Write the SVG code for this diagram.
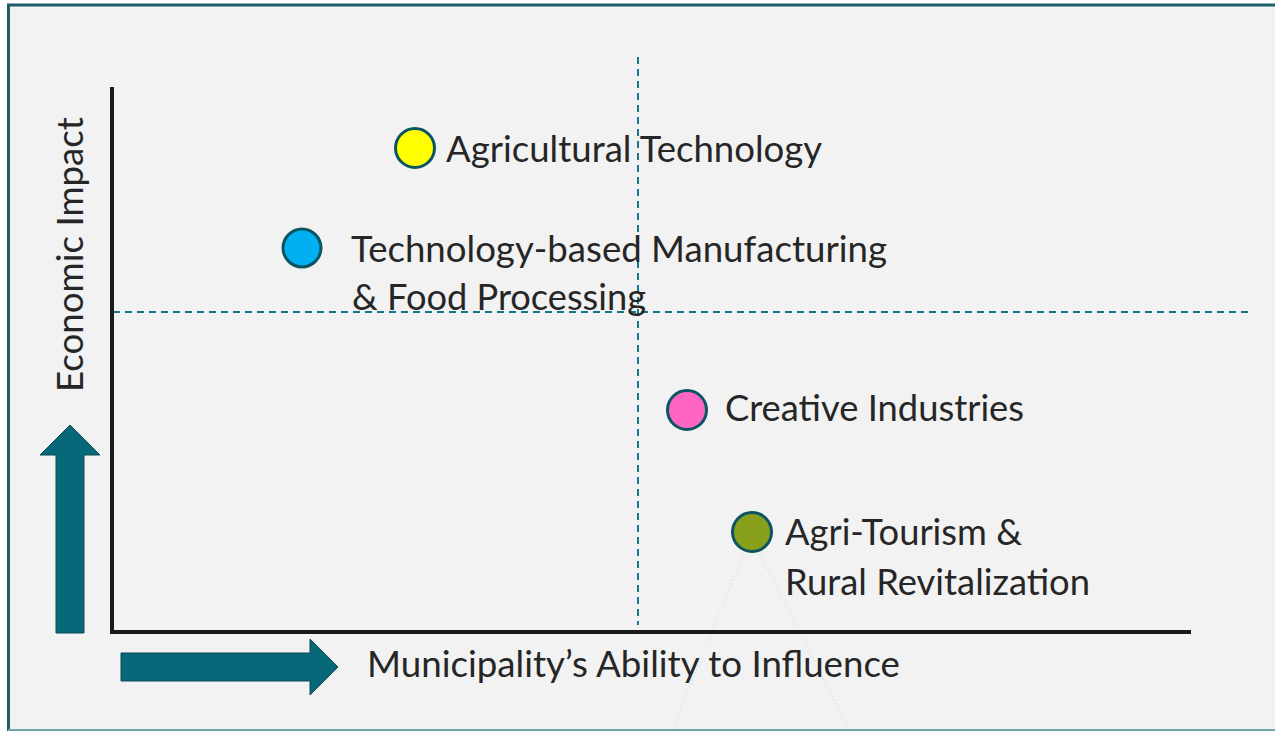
<svg xmlns="http://www.w3.org/2000/svg" width="1275" height="731" viewBox="0 0 1275 731">
  <style>
    .lbl { font-family: Lato, "Open Sans", "Liberation Sans", sans-serif; font-size: 36px; fill: #262626; }
    .dot { stroke: #0b5563; stroke-width: 3; }
    .guide { stroke: #13798a; stroke-width: 2; stroke-dasharray: 7 5; fill: none; }
    .axis { stroke: #1a1a1a; stroke-width: 4; fill: none; }
    .bigarrow { fill: #07687a; stroke: #0b4a55; stroke-width: 1; }
    .ghost { stroke: #d6d6d6; stroke-width: 1.2; stroke-dasharray: 1 3; fill: none; }
  </style>
  <rect x="0" y="0" width="1275" height="731" fill="#ffffff"/>
  <rect id="frame" x="8.5" y="5" width="1300" height="725.5" fill="#f2f2f2" stroke="#1d5e68" stroke-width="3"/>
  <line x1="8" y1="730" x2="1275" y2="730" stroke="#8fbcc4" stroke-width="1.5"/>

  <g id="ghost-shape">
    <line class="ghost" x1="745" y1="550" x2="672" y2="731"/>
    <line class="ghost" x1="758" y1="550" x2="850" y2="731"/>
  </g>

  <g id="connectors">
    <line class="guide" x1="638" y1="57" x2="638" y2="625"/>
    <line class="guide" x1="113" y1="312" x2="1250" y2="312"/>
    <polyline class="axis" points="112,87 112,632 1191,632"/>
  </g>

  <g id="axis-y-arrow">
    <polygon class="bigarrow" points="70,425 100,455 84,455 84,633 56,633 56,455 40,455"/>
  </g>
  <g id="axis-x-arrow">
    <polygon class="bigarrow" points="338,667 310,639 310,653 121,653 121,681 310,681 310,695"/>
  </g>
  <g id="axis-y-label">
    <text class="lbl" transform="translate(83,392) rotate(-90)" x="0" y="0" textLength="275" lengthAdjust="spacingAndGlyphs">Economic Impact</text>
  </g>
  <g id="axis-x-label">
    <text class="lbl" x="367" y="677" textLength="533" lengthAdjust="spacingAndGlyphs">Municipality’s Ability to Influence</text>
  </g>

  <g id="node-agtech">
    <circle class="dot" cx="415" cy="148" r="19.5" fill="#ffff00"/>
    <text class="lbl" x="446" y="162" textLength="376" lengthAdjust="spacingAndGlyphs">Agricultural Technology</text>
  </g>
  <g id="node-manufacturing">
    <circle class="dot" cx="302" cy="248" r="19" fill="#00b0f0"/>
    <text class="lbl" x="351" y="262" textLength="536" lengthAdjust="spacingAndGlyphs">Technology-based Manufacturing</text>
    <text class="lbl" x="352" y="310" textLength="294" lengthAdjust="spacingAndGlyphs">&amp; Food Processing</text>
  </g>
  <g id="node-creative">
    <circle class="dot" cx="687" cy="410" r="19.5" fill="#ff66c4"/>
    <text class="lbl" x="725" y="421" textLength="299" lengthAdjust="spacingAndGlyphs">Creative Industries</text>
  </g>
  <g id="node-agritourism">
    <circle class="dot" cx="752" cy="532" r="19.5" fill="#86a01c"/>
    <text class="lbl" x="785" y="545" textLength="237" lengthAdjust="spacingAndGlyphs">Agri-Tourism &amp;</text>
    <text class="lbl" x="785" y="595" textLength="305" lengthAdjust="spacingAndGlyphs">Rural Revitalization</text>
  </g>
</svg>
